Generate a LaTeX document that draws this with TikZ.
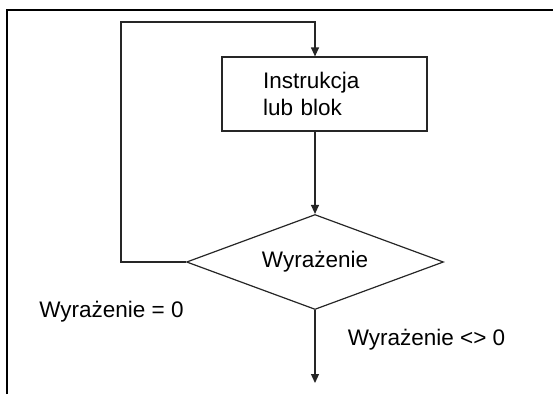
\documentclass[tikz,border=0pt]{standalone}
\usepackage{fontspec}
\setmainfont{Liberation Sans}
\usepackage{tikz}
\usetikzlibrary{shapes,arrows.meta,positioning,calc}

\begin{document}
\begin{tikzpicture}[x=1pt,y=-1pt,
    font=\fontsize{22.5}{27}\selectfont,
    linia/.style={line width=1.2pt, draw=black!85},
    strz/.style={linia, -{Triangle[length=9pt,width=8pt]}},
    blok/.style={linia, rectangle, align=left, text width=123pt, inner xsep=41pt, inner ysep=0pt, minimum height=74pt},
    decyzja/.style={linia, diamond, aspect=2.7, inner sep=0pt, minimum width=257pt, minimum height=95pt},
    opis/.style={inner sep=0pt}]
  \useasboundingbox (0,0) rectangle (553,394);
  \draw[line width=2.4pt] (7,394) -- (7,10) -- (553,10);
  \node[blok] (instr) at (324.5,94) {Instrukcja\\lub blok};
  \node[decyzja] (war) at (315,262) {Wyrażenie};
  \coordinate (petla) at (121,22);
  \coordinate (wyjscie) at (315,383);
  \draw[strz] (war.west) -| (petla) -| (war.north |- instr.north);
  \draw[strz] (war.north |- instr.south) -- (war.north);
  \draw[strz] (war.south) -- (wyjscie);
  \node[opis] (zero) at (111.5,312) {Wyrażenie = 0};
  \node[opis] (niezero) at (426.5,340) {Wyrażenie <> 0};
\end{tikzpicture}
\end{document}
